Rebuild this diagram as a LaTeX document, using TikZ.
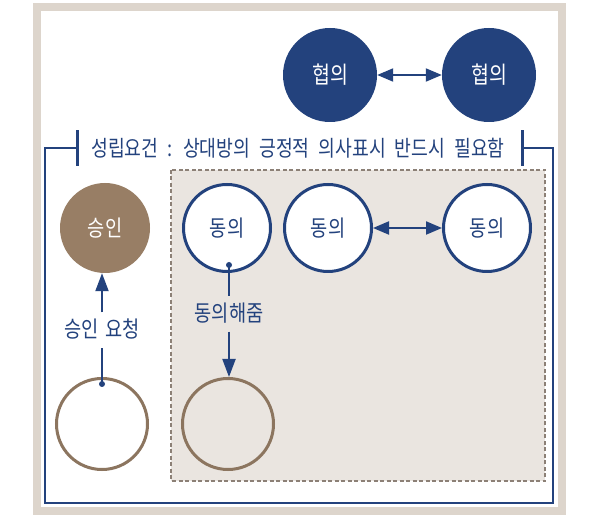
\documentclass[tikz,border=0pt]{standalone}
\usepackage{fontspec}
\setmainfont{Noto Sans CJK KR}[FakeStretch=0.83,WordSpace=1.6]
\newfontfamily\titlefont{Noto Sans CJK KR}[FakeStretch=0.83,WordSpace=2.2]
\usetikzlibrary{arrows.meta}
\definecolor{navy}{RGB}{35,66,125}
\definecolor{brownfill}{RGB}{152,126,101}
\definecolor{brownline}{RGB}{140,117,95}
\definecolor{beige}{RGB}{221,213,204}
\definecolor{panel}{RGB}{234,229,224}
\definecolor{dashc}{RGB}{140,128,118}
\tikzset{
  fullnavy/.style={circle,fill=navy,minimum size=94pt,inner sep=0pt,text=white,font=\fontsize{23.5}{26}\selectfont},
  opennavy/.style={circle,draw=navy,line width=3pt,fill=white,minimum size=87pt,inner sep=0pt,text=navy,font=\fontsize{22.5}{26}\selectfont},
  fullbrown/.style={circle,fill=brownfill,minimum size=90pt,inner sep=0pt,text=white,font=\fontsize{22.5}{26}\selectfont},
  openbrown/.style={circle,draw=brownline,line width=3pt,minimum size=91pt,inner sep=0pt},
  lbl/.style={text=navy,font=\fontsize{22.5}{26}\selectfont,text height=18pt,text depth=2pt,inner xsep=2pt,inner ysep=7.5pt},
  conn/.style={draw=navy,line width=2pt},
  biarrow/.style={conn,{Triangle[length=16pt,width=13pt]}-{Triangle[length=16pt,width=13pt]}},
  uparrow/.style={conn,-{Triangle[length=18pt,width=13pt]}},
  tick/.style={draw=navy,line width=3pt},
  dotc/.style={circle,fill=navy,inner sep=0pt,minimum size=6pt}
}
\begin{document}
\begin{tikzpicture}[x=1pt,y=-1pt]
\useasboundingbox (0,0) rectangle (600,518);
\fill[white] (0,0) rectangle (600,518);
% outer beige frame
\draw[beige,line width=8pt] (37,7) rectangle (562,511);
% dashed panel
\draw[fill=panel,draw=dashc,line width=1.2pt,dash pattern=on 4pt off 2.5pt] (171,170) rectangle (545,481);
% navy frame with title
\node[text=navy,font=\titlefont\fontsize{22}{26}\selectfont,inner sep=0pt] (title) at (298,148) {성립요건 : 상대방의 긍정적 의사표시 반드시 필요함};
\coordinate (tl) at (77,148);
\coordinate (tr) at (522,148);
\draw[navy,line width=1.5pt] (tl) -- (45,148) -- (45,503) -- (553,503) -- (553,148) -- (tr);
\draw[tick] ([yshift=-18pt]tl) -- ([yshift=18pt]tl);
\draw[tick] ([yshift=-18pt]tr) -- ([yshift=18pt]tr);
% top circles
\node[fullnavy] (h1) at (330,75) {협의};
\node[fullnavy] (h2) at (489,75) {협의};
\draw[biarrow] (h1.east) -- (h2.west);
% consent circles
\node[opennavy] (d1) at (227,228) {동의};
\node[opennavy] (d2) at (328,228) {동의};
\node[opennavy] (d3) at (487,228) {동의};
\draw[biarrow] (d2.east) -- (d3.west);
% approval
\node[fullbrown] (s) at (105,228) {승인};
\node[openbrown,fill=white] (b1) at (102,424) {};
\node[openbrown] (b2) at (228,424) {};
% left: approval request
\node[dotc] (p1) at (102,384) {};
\node[lbl,fill=white] (req) at (102,330) {승인 요청};
\draw[conn] (p1.center) -- (req.south);
\draw[uparrow] (req.north) -- (req.north |- s.south);
% consent given
\node[dotc] (p2) at (229,265) {};
\node[lbl,fill=panel] (give) at (229,314) {동의해줌};
\draw[conn] (p2.center) -- (give.north);
\draw[uparrow] (give.south) -- (give.south |- b2.north);
\end{tikzpicture}
\end{document}
